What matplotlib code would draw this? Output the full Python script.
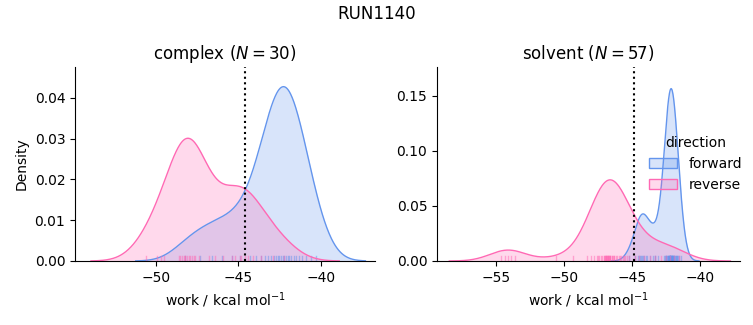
import numpy as np
import matplotlib.pyplot as plt
from matplotlib.patches import Patch
from matplotlib.colors import to_rgba

# work values (kcal/mol)
complex_forward = [-48.2, -47.3, -46.6, -46.0, -45.4, -44.9,
                   -44.3, -43.9, -43.6, -43.4, -43.2, -43.0, -42.8, -42.7,
                   -42.6, -42.5, -42.4, -42.3, -42.2, -42.1, -42.0, -41.9,
                   -41.8, -41.6, -41.5, -41.3, -41.1, -40.9, -40.6, -40.3]
complex_reverse = [-50.6, -49.9, -49.7, -49.5,
                   -48.6, -48.5, -48.4, -48.3, -48.25, -48.2, -48.1, -48.0,
                   -47.9, -47.8, -47.7, -47.6, -47.4,
                   -46.8, -46.4, -45.9,
                   -45.4, -45.2, -44.9, -44.8, -44.6, -44.4, -44.1,
                   -43.6, -42.9, -42.2]
solvent_forward = [-45.2, -44.8, -44.6, -44.5, -44.4, -44.35, -44.3, -44.2,
                   -44.1, -44.0, -43.9, -43.7, -43.5, -43.3, -43.1,
                   -42.7, -42.6, -42.55, -42.5, -42.45, -42.4, -42.35, -42.3,
                   -42.3, -42.25, -42.25, -42.2, -42.2, -42.2, -42.15, -42.15,
                   -42.1, -42.1, -42.1, -42.05, -43.3, -42.0, -42.0, -41.95,
                   -41.9, -41.9, -41.85, -41.8, -41.75, -41.7, -41.65, -41.6,
                   -42.35, -42.25, -42.2, -42.15, -42.1, -42.0,
                   -42.5, -42.3, -41.8, -41.4]
solvent_reverse = [-54.6, -54.3, -54.1, -53.9, -53.6, -50.6, -49.3,
                   -48.3, -48.0, -47.8, -47.6, -47.5, -47.4, -47.3, -47.2,
                   -47.1, -47.0, -46.95, -46.9, -46.85, -46.8, -46.75, -46.7,
                   -46.65, -46.6, -46.5, -46.4, -46.3, -46.2, -46.1, -46.0,
                   -45.9, -45.8, -45.7, -45.6, -45.5, -45.4, -45.2,
                   -47.0, -46.8, -46.6, -46.9, -46.7, -47.1, -46.5, -46.3,
                   -44.8, -44.5, -44.1, -43.7, -43.3, -42.9, -42.5,
                   -42.2, -41.9, -41.6, -46.85]

# free energy estimates (dotted lines)
complex_dg = -44.6
solvent_dg = -44.9

# density scale per group (shared normalisation from the original plot)
complex_scale = {'forward': 0.193, 'reverse': 0.172}
solvent_scale = {'forward': 0.28, 'reverse': 0.37}

colors = {'forward': 'cornflowerblue', 'reverse': 'hotpink'}


def kde(samples, grid):
    x = np.asarray(samples)
    bw = x.std(ddof=1) * len(x) ** (-1 / 5)  # scott
    z = (grid[:, None] - x[None, :]) / bw
    return np.exp(-0.5 * z ** 2).sum(axis=1) / (len(x) * bw * np.sqrt(2 * np.pi)), bw


def panel(ax, title, data, scales, dg, legend=False):
    for name, samples in data.items():
        x = np.asarray(samples)
        bw = x.std(ddof=1) * len(x) ** (-1 / 5)
        grid = np.linspace(x.min() - 3 * bw, x.max() + 3 * bw, 400)
        dens, _ = kde(x, grid)
        dens = dens * scales[name]
        ax.fill_between(grid, dens, color=colors[name], alpha=0.25, lw=0)
        ax.plot(grid, dens, color=colors[name], lw=1)
        for v in x:
            ax.axvline(v, ymin=0, ymax=0.025, color=colors[name], lw=1, alpha=0.5)
    ax.axvline(dg, color='k', ls=':', lw=1.5)
    ax.set_ylim(bottom=0)
    ax.set_title(title, fontsize=12)
    ax.set_xlabel('work / kcal mol$^{-1}$')
    ax.spines['top'].set_visible(False)
    ax.spines['right'].set_visible(False)
    if legend:
        handles = [Patch(facecolor=to_rgba(colors[k], 0.25), edgecolor=colors[k], lw=1)
                   for k in data]
        ax.legend(handles, list(data), title='direction', frameon=False,
                  loc='center left', bbox_to_anchor=(0.66, 0.50))


fig, (ax1, ax2) = plt.subplots(1, 2, figsize=(7.53, 3.25), dpi=100)
ax1.set_position([75 / 753, 1 - 261 / 325, 300 / 753, 194 / 325])
ax2.set_position([437 / 753, 1 - 261 / 325, 303 / 753, 194 / 325])

panel(ax1, 'complex ($N=30$)', {'forward': complex_forward, 'reverse': complex_reverse},
      complex_scale, complex_dg)
ax1.set_ylabel('Density')
ax1.set_xlim(-54.9, -36.7)
ax1.set_ylim(0, 0.0476)

panel(ax2, 'solvent ($N=57$)', {'forward': solvent_forward, 'reverse': solvent_reverse},
      solvent_scale, solvent_dg, legend=True)
ax2.set_xlim(-59.3, -37.1)
ax2.set_ylim(0, 0.176)

fig.suptitle('RUN1140', fontsize=12, y=0.985)
fig.savefig('out.png', dpi=100)
